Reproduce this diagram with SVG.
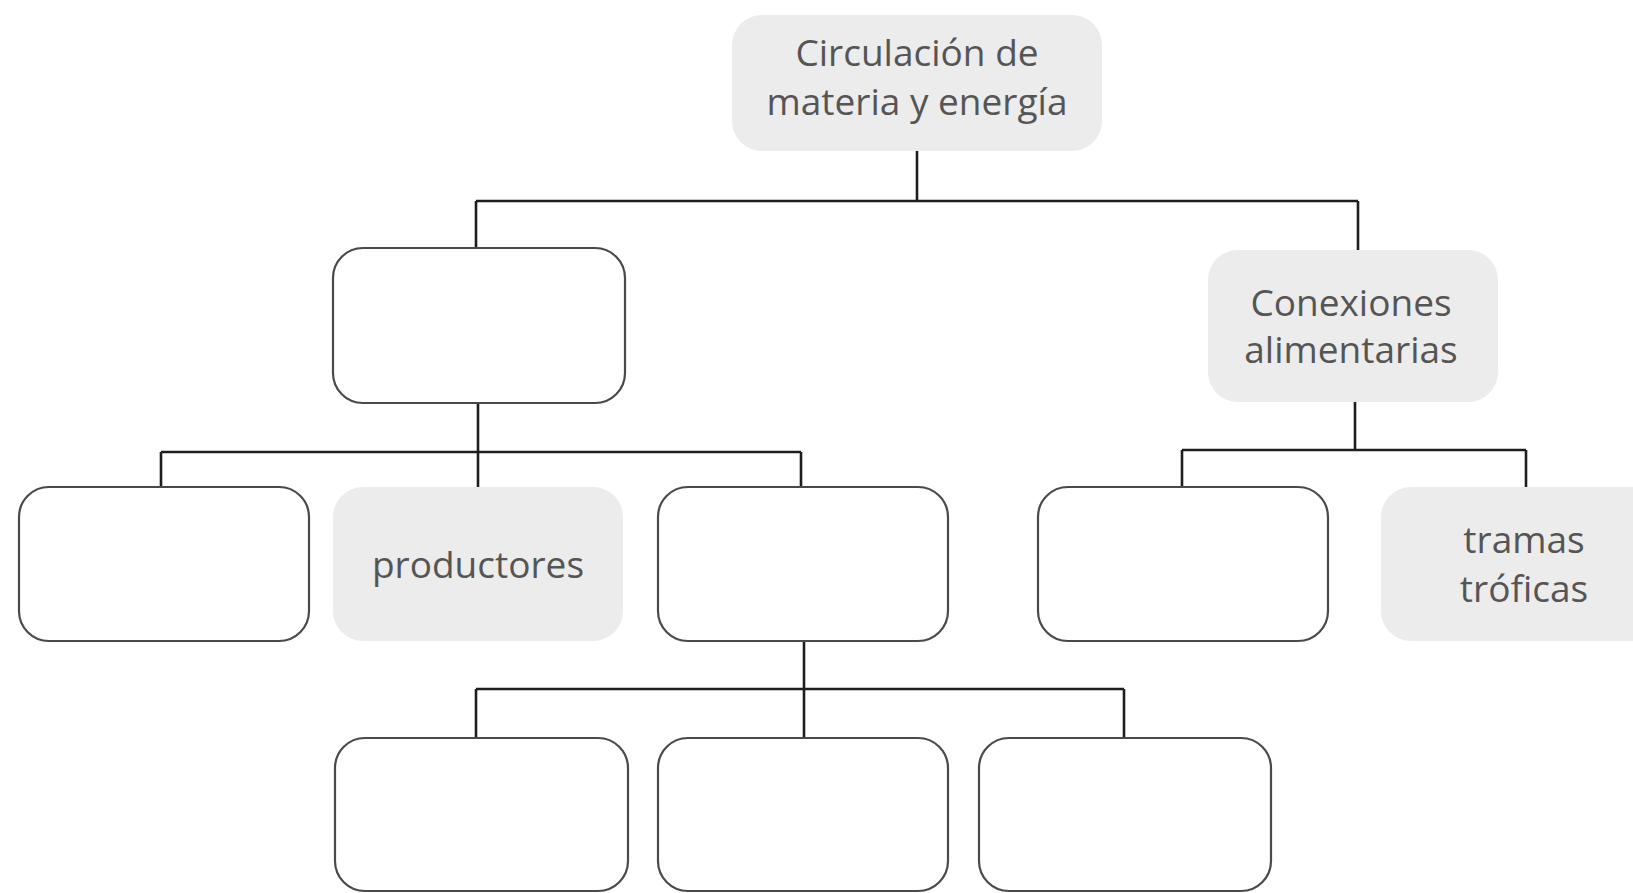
<svg xmlns="http://www.w3.org/2000/svg" width="1633" height="893" viewBox="0 0 1633 893">
<style>
.empty{fill:#ffffff;stroke:#4a4a4a;stroke-width:2.2}
.grey{fill:#ececec;stroke:none}
.lbl{font-family:"Open Sans","Noto Sans",sans-serif;font-size:37px;fill:#555555;text-anchor:middle}
.conn{fill:none;stroke:#1e1e1e;stroke-width:2.6}
</style>
<rect width="1633" height="893" fill="#ffffff"/>
<g id="connectors" class="conn">
<path d="M917 151 V201 M476 201 H1358 M476 201 V248 M1358 201 V250"/>
<path d="M478 403 V487 M161 452 H801 M161 452 V487 M801 452 V487"/>
<path d="M1355 402 V450 M1182 450 H1526 M1182 450 V487 M1526 450 V487"/>
<path d="M804 641 V738 M476 689 H1124 M476 689 V738 M1124 689 V738"/>
</g>
<g id="n-circulacion"><rect class="grey" x="732" y="15" width="370" height="136" rx="30"/><text class="lbl" x="917" y="66">Circulación de</text><text class="lbl" x="917" y="115">materia y energía</text></g>
<g id="n-a"><rect class="empty" x="333" y="248" width="292" height="155" rx="30"/></g>
<g id="n-conexiones"><rect class="grey" x="1208" y="250" width="290" height="152" rx="30"/><text class="lbl" x="1351" y="316">Conexiones</text><text class="lbl" x="1351" y="363">alimentarias</text></g>
<g id="n-b1"><rect class="empty" x="19" y="487" width="290" height="154" rx="30"/></g>
<g id="n-productores"><rect class="grey" x="333" y="487" width="290" height="154" rx="30"/><text class="lbl" x="478" y="578">productores</text></g>
<g id="n-b3"><rect class="empty" x="658" y="487" width="290" height="154" rx="30"/></g>
<g id="n-c1"><rect class="empty" x="1038" y="487" width="290" height="154" rx="30"/></g>
<g id="n-tramas"><rect class="grey" x="1381" y="487" width="290" height="154" rx="30"/><text class="lbl" x="1524" y="553">tramas</text><text class="lbl" x="1524" y="602">tróficas</text></g>
<g id="n-d1"><rect class="empty" x="335" y="738" width="293" height="153" rx="30"/></g>
<g id="n-d2"><rect class="empty" x="658" y="738" width="290" height="153" rx="30"/></g>
<g id="n-d3"><rect class="empty" x="979" y="738" width="292" height="153" rx="30"/></g>
</svg>
